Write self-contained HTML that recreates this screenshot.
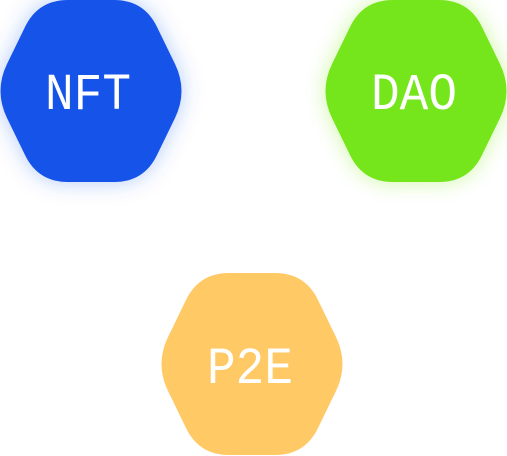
<!DOCTYPE html>
<html><head><style>html,body{margin:0;padding:0;background:#fff;width:507px;height:456px;overflow:hidden}</style></head>
<body>
<svg width="507" height="456" viewBox="0 0 507 456" xmlns="http://www.w3.org/2000/svg">
<defs>
<filter id="gb" x="-40%" y="-40%" width="180%" height="180%"><feDropShadow dx="0" dy="0" stdDeviation="11" flood-color="#1652E9" flood-opacity="0.3"/></filter>
<filter id="gg" x="-40%" y="-40%" width="180%" height="180%"><feDropShadow dx="0" dy="0" stdDeviation="11" flood-color="#74E51A" flood-opacity="0.35"/></filter>
<path id="hx" d="M68,0 L114,0 Q144,0 157,27 L175,64 Q188,91 175,118 L157,155 Q144,182 114,182 L68,182 Q38,182 25,155 L7,118 Q-6,91 7,64 L25,27 Q38,0 68,0 Z"/>
</defs>
<g font-family="Liberation Mono, monospace" font-size="52" fill="#fff">
<use href="#hx" fill="#1652E9" filter="url(#gb)"/>
<text x="45" y="109" textLength="86" lengthAdjust="spacingAndGlyphs">NFT</text>
<use href="#hx" transform="translate(325,0)" fill="#74E51A" filter="url(#gg)"/>
<text x="371" y="109" textLength="86" lengthAdjust="spacingAndGlyphs">DAO</text>
<use href="#hx" transform="translate(161,273)" fill="#FFC966"/>
<text x="207" y="383" textLength="86" lengthAdjust="spacingAndGlyphs">P2E</text>
</g>
</svg>
</body></html>
